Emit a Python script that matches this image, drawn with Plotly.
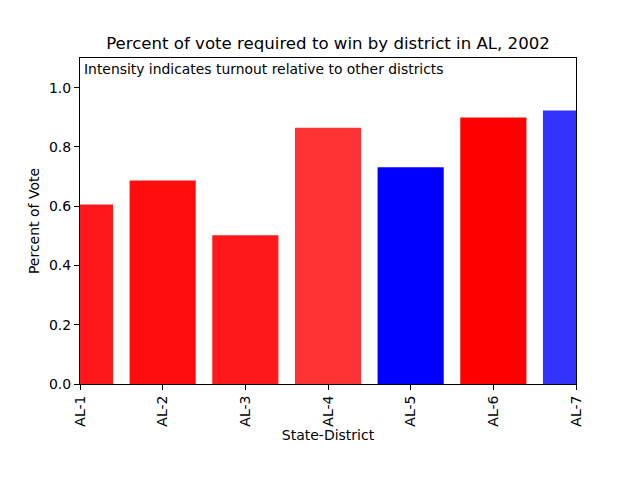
import plotly.graph_objects as go

districts = ["AL-1", "AL-2", "AL-3", "AL-4", "AL-5", "AL-6", "AL-7"]
vote_share = [0.606, 0.687, 0.502, 0.865, 0.731, 0.899, 0.923]
party = ["R", "R", "R", "R", "D", "R", "D"]
intensity = [0.9, 0.95, 0.9, 0.8, 1.0, 1.0, 0.8]

base = {"R": (255, 0, 0), "D": (0, 0, 255)}
colors = [f"rgba({base[p][0]},{base[p][1]},{base[p][2]},{a})" for p, a in zip(party, intensity)]

font = "DejaVu Sans"
fig = go.Figure(go.Bar(x=districts, y=vote_share, marker=dict(color=colors, line=dict(width=0)),
                       width=0.8))

fig.update_layout(
    width=640, height=480,
    margin=dict(l=80, r=64, t=58, b=96, autoexpand=False),
    plot_bgcolor="white", paper_bgcolor="white",
    font=dict(family=font, size=14, color="black"),
    showlegend=False,
    title=dict(text="Percent of vote required to win by district in AL, 2002",
               x=0.5, xref="paper", xanchor="center", y=1 - 43 / 480, yanchor="middle",
               font=dict(size=16.6, family=font)),
    annotations=[dict(text="Intensity indicates turnout relative to other districts",
                      xref="paper", yref="paper", x=0.004, y=0.998, xanchor="left", yanchor="top",
                      showarrow=False, font=dict(size=13.9, family=font))],
)
fig.update_xaxes(type="category", range=[0, 6], showline=True, linecolor="black", linewidth=1,
                 mirror=True, ticks="outside", ticklen=5, tickcolor="black", tickangle=-90,
                 showgrid=False, automargin=False,
                 title=dict(text="State-District", font=dict(size=14), standoff=4))
fig.update_yaxes(range=[0, 1.1], tickvals=[0, 0.2, 0.4, 0.6, 0.8, 1.0], tickformat=".1f",
                 showline=True, linecolor="black", linewidth=1, mirror=True, ticks="outside",
                 ticklen=5, tickcolor="black", showgrid=False, zeroline=False, automargin=False,
                 title=dict(text="Percent of Vote", font=dict(size=14), standoff=6))

fig.write_html("out.html", config={"displayModeBar": False},
               post_script="document.body.style.margin='0';")
